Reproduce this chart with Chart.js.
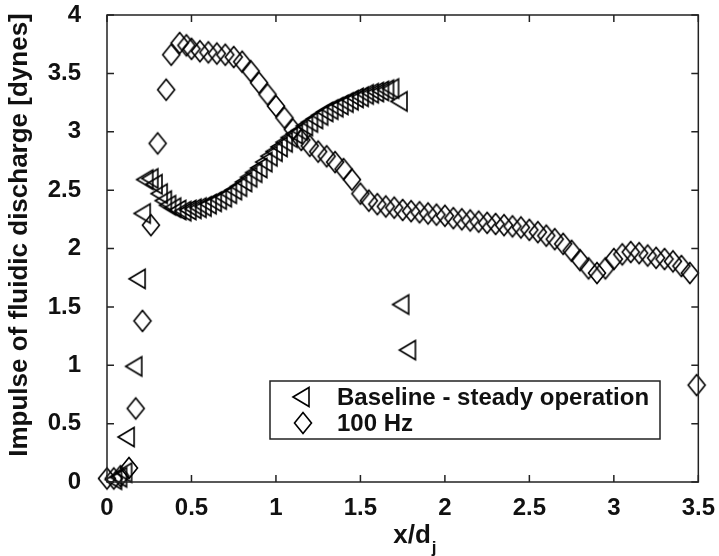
<!DOCTYPE html>
<html>
<head>
  <title>Impulse of fluidic discharge</title>
  <script src="https://cdn.jsdelivr.net/npm/chart.js"></script>
  <style>
    html, body {
      margin: 0;
      padding: 0;
      background: #ffffff;
    }
    .chart-container {
      position: relative;
      width: 719px;
      height: 556px;
    }
  </style>
</head>
<body>
  <div class="chart-container">
    <canvas id="impulseChart" width="719" height="556"></canvas>
  </div>

  <script>
    // tick values / labels
    const xTicks = [0, 0.5, 1, 1.5, 2, 2.5, 3, 3.5];
    const xTickLabels = ['0', '0.5', '1', '1.5', '2', '2.5', '3', '3.5'];
    const yTicks = [0, 0.5, 1, 1.5, 2, 2.5, 3, 3.5, 4];
    const yTickLabels = ['0', '0.5', '1', '1.5', '2', '2.5', '3', '3.5', '4'];

    const seriesNames = ['Baseline - steady operation', '100 Hz'];

    // Baseline - steady operation (left triangles)
    const baselineX = [0.05, 0.08, 0.11, 0.125, 0.17, 0.19, 0.22, 0.235, 0.265, 0.29,
      0.32, 0.345, 0.37, 0.40, 0.43, 0.46, 0.49, 0.52, 0.55, 0.58,
      0.61, 0.64, 0.67, 0.70, 0.73, 0.76, 0.79, 0.82, 0.85, 0.88,
      0.91, 0.94, 0.97, 1.00, 1.03, 1.06, 1.09, 1.12, 1.15, 1.18,
      1.21, 1.24, 1.27, 1.30, 1.33, 1.36, 1.39, 1.42, 1.45, 1.48,
      1.51, 1.54, 1.57, 1.60, 1.63, 1.66, 1.69, 1.74, 1.75, 1.79];
    const baselineY = [0.02, 0.04, 0.08, 0.385, 0.99, 1.74, 2.30, 2.59, 2.60, 2.55,
      2.47, 2.41, 2.37, 2.35, 2.33, 2.32, 2.33, 2.34, 2.35, 2.36,
      2.38, 2.40, 2.42, 2.44, 2.47, 2.50, 2.53, 2.57, 2.61, 2.65,
      2.69, 2.74, 2.79, 2.83, 2.87, 2.91, 2.95, 2.98, 3.01, 3.05,
      3.08, 3.11, 3.14, 3.17, 3.19, 3.21, 3.23, 3.25, 3.27, 3.29,
      3.30, 3.32, 3.33, 3.34, 3.35, 3.36, 3.37, 3.26, 1.52, 1.13];

    // 100 Hz (diamonds)
    const hz100X = [0.00, 0.04, 0.08, 0.13, 0.17, 0.21, 0.26, 0.30, 0.35, 0.38,
      0.43, 0.47, 0.50, 0.55, 0.60, 0.65, 0.70, 0.75, 0.80, 0.85,
      0.90, 0.95, 1.00, 1.05, 1.10, 1.15, 1.20, 1.25, 1.30, 1.35,
      1.40, 1.45, 1.50, 1.55, 1.60, 1.65, 1.70, 1.75, 1.80, 1.85,
      1.90, 1.95, 2.00, 2.05, 2.10, 2.15, 2.20, 2.25, 2.30, 2.35,
      2.40, 2.45, 2.50, 2.55, 2.60, 2.65, 2.70, 2.75, 2.80, 2.85,
      2.90, 2.95, 3.00, 3.05, 3.10, 3.15, 3.20, 3.25, 3.30, 3.35,
      3.40, 3.45, 3.49];
    const hz100Y = [0.03, 0.03, 0.05, 0.12, 0.63, 1.38, 2.20, 2.90, 3.36, 3.66,
      3.76, 3.74, 3.71, 3.69, 3.68, 3.67, 3.66, 3.64, 3.60, 3.52,
      3.42, 3.32, 3.22, 3.12, 3.02, 2.93, 2.88, 2.83, 2.79, 2.74,
      2.68, 2.59, 2.47, 2.41, 2.38, 2.36, 2.35, 2.33, 2.32, 2.31,
      2.30, 2.29, 2.28, 2.26, 2.25, 2.24, 2.23, 2.22, 2.21, 2.20,
      2.19, 2.18, 2.16, 2.14, 2.11, 2.08, 2.04, 1.98, 1.90, 1.83,
      1.79, 1.83, 1.91, 1.95, 1.97, 1.96, 1.94, 1.92, 1.91, 1.89,
      1.85, 1.79, 0.83];

    const FONT = 'Liberation Sans, Arial, Helvetica, sans-serif';

    function toPoints(xs, ys) {
      return xs.map((x, i) => ({ x: x, y: ys[i] }));
    }

    // marker sprites (slightly taller than wide, like the original figure)
    function makeSprite(kind) {
      const c = document.createElement('canvas');
      c.width = 26;
      c.height = 28;
      const g = c.getContext('2d');
      const cx = 13, cy = 14;
      g.strokeStyle = '#000';
      g.lineWidth = 1.6;
      g.lineJoin = 'miter';
      g.beginPath();
      if (kind === 'tri') {
        g.moveTo(cx - 10, cy);
        g.lineTo(cx + 6, cy - 9.5);
        g.lineTo(cx + 6, cy + 9.5);
      } else {
        g.moveTo(cx, cy - 10.5);
        g.lineTo(cx + 8.5, cy);
        g.lineTo(cx, cy + 10.5);
        g.lineTo(cx - 8.5, cy);
      }
      g.closePath();
      g.stroke();
      return c;
    }
    const triSprite = makeSprite('tri');
    const diaSprite = makeSprite('dia');

    // box, inward ticks, titles and legend
    const frame = {
      id: 'frame',
      afterDraw(chart) {
        const ctx = chart.ctx;
        const a = chart.chartArea;
        const xs = chart.scales.x, ys = chart.scales.y;
        ctx.save();
        ctx.strokeStyle = '#222';
        ctx.lineWidth = 1.5;
        ctx.strokeRect(a.left, a.top, a.right - a.left, a.bottom - a.top);
        ctx.beginPath();
        xs.ticks.forEach(t => {
          const px = xs.getPixelForValue(t.value);
          ctx.moveTo(px, a.bottom); ctx.lineTo(px, a.bottom - 7);
          ctx.moveTo(px, a.top); ctx.lineTo(px, a.top + 7);
        });
        ys.ticks.forEach(t => {
          const py = ys.getPixelForValue(t.value);
          ctx.moveTo(a.left, py); ctx.lineTo(a.left + 7, py);
          ctx.moveTo(a.right, py); ctx.lineTo(a.right - 7, py);
        });
        ctx.stroke();

        // axis titles
        ctx.fillStyle = '#111';
        ctx.font = 'bold 26px ' + FONT;
        ctx.textBaseline = 'middle';
        ctx.textAlign = 'center';
        ctx.save();
        ctx.translate(20, 235);
        ctx.rotate(-Math.PI / 2);
        ctx.fillText('Impulse of fluidic discharge [dynes]', 0, 0);
        ctx.restore();
        ctx.textAlign = 'left';
        ctx.textBaseline = 'alphabetic';
        const w = ctx.measureText('x/d').width;
        const tx = 412 - w / 2;
        ctx.fillText('x/d', tx, 543);
        ctx.font = 'bold 17px ' + FONT;
        ctx.fillText('j', tx + w + 1, 553);

        // legend
        const lx = a.left + 163, ly = a.top + 366;
        ctx.fillStyle = '#fff';
        ctx.fillRect(lx, ly, 390, 58);
        ctx.strokeStyle = '#222';
        ctx.lineWidth = 1.5;
        ctx.strokeRect(lx, ly, 390, 58);
        ctx.drawImage(triSprite, lx + 33 - 13, ly + 16 - 14);
        ctx.drawImage(diaSprite, lx + 33 - 13, ly + 42 - 14);
        ctx.fillStyle = '#111';
        ctx.font = 'bold 24px ' + FONT;
        ctx.textBaseline = 'middle';
        ctx.fillText(seriesNames[0], lx + 67, ly + 17);
        ctx.fillText(seriesNames[1], lx + 67, ly + 43);
        ctx.restore();
      }
    };

    const ctx = document.getElementById('impulseChart').getContext('2d');
    const chart = new Chart(ctx, {
      type: 'scatter',
      data: {
        datasets: [{
          label: seriesNames[0],
          data: toPoints(baselineX, baselineY),
          pointStyle: triSprite,
          pointRadius: 10,
          clip: false
        }, {
          label: seriesNames[1],
          data: toPoints(hz100X, hz100Y),
          pointStyle: diaSprite,
          pointRadius: 10,
          clip: false
        }]
      },
      options: {
        responsive: false,
        animation: false,
        devicePixelRatio: 1,
        layout: { padding: { top: 0, right: 20, left: 0, bottom: 0 } },
        plugins: {
          legend: { display: false },
          tooltip: { enabled: false }
        },
        scales: {
          x: {
            type: 'linear',
            min: 0,
            max: 3.5,
            afterFit: s => { s.height = 74; },
            afterBuildTicks: s => { s.ticks = xTicks.map(v => ({ value: v })); },
            grid: { display: false },
            border: { display: false },
            ticks: {
              padding: 4,
              color: '#111',
              font: { family: FONT, size: 24, weight: 'bold' },
              maxRotation: 0,
              callback: (v, i) => xTickLabels[i]
            }
          },
          y: {
            type: 'linear',
            min: 0,
            max: 4,
            afterFit: s => { s.width = 107; s.paddingTop = 15; },
            afterBuildTicks: s => { s.ticks = yTicks.map(v => ({ value: v })); },
            grid: { display: false },
            border: { display: false },
            ticks: {
              padding: 18,
              color: '#111',
              font: { family: FONT, size: 24, weight: 'bold' },
              callback: (v, i) => yTickLabels[i]
            }
          }
        }
      },
      plugins: [frame]
    });
  </script>
</body>
</html>
